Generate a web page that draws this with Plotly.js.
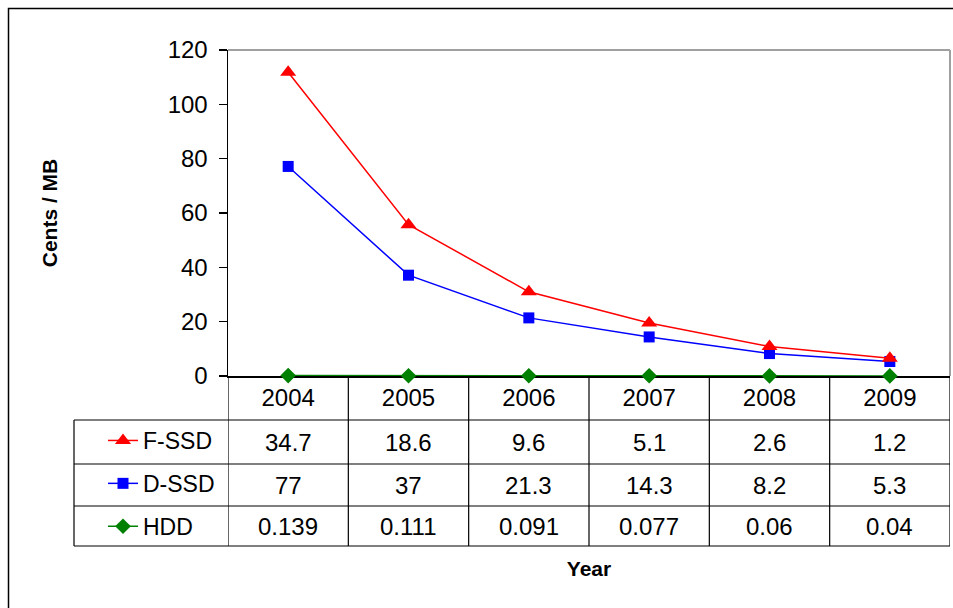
<!DOCTYPE html>
<html>
<head>
<meta charset="utf-8">
<script src="https://cdn.plot.ly/plotly-3.0.1.min.js"></script>
<style>html,body{margin:0;padding:0;background:#fff;}#chart{width:953px;height:608px;}</style>
</head>
<body>
<div id="chart"></div>
<script>
// ---- data ----
const years = [2004, 2005, 2006, 2007, 2008, 2009];
const seriesNames = ["F-SSD", "D-SSD", "HDD"];
const fssd = [34.7, 18.6, 9.6, 5.1, 2.6, 1.2];
const dssd = [77, 37, 21.3, 14.3, 8.2, 5.3];
const hdd = [0.139, 0.111, 0.091, 0.077, 0.06, 0.04];
const yTicks = [0, 20, 40, 60, 80, 100, 120];

// ---- geometry helpers (pixel -> paper) ----
const W = 953, H = 608;
const M = {l: 228, r: 3, t: 50, b: 232};
const PW = W - M.l - M.r, PH = H - M.t - M.b;
const px = p => (p - M.l) / PW;
const py = p => (H - M.b - p) / PH;

const FONT = "Liberation Sans, Arial, sans-serif";
const NUMSIZE = 24;
const rowEdges = [420, 464, 506, 546]; // table row boundaries (px)
const tableLeft = 74;

// traces: stacked lines (HDD bottom, D-SSD, F-SSD on top)
const valuesByName = {"F-SSD": fssd, "D-SSD": dssd, "HDD": hdd};
const styles = {
  "F-SSD": {color: "#ff0000", symbol: "triangle-up", size: 14},
  "D-SSD": {color: "#0000ff", symbol: "square", size: 11},
  "HDD": {color: "#008000", symbol: "diamond", size: 12}
};
const stackOrder = ["HDD", "D-SSD", "F-SSD"];
const traces = stackOrder.map(n => ({
  type: "scatter",
  mode: "lines+markers",
  name: n,
  x: years,
  y: valuesByName[n],
  stackgroup: "cost",
  fill: "none",
  legendgroup: n,
  legendrank: seriesNames.indexOf(n) + 1,
  cliponaxis: false,
  line: {color: styles[n].color, width: 1.5},
  marker: {color: styles[n].color, symbol: styles[n].symbol, size: styles[n].size}
}));

// table: shapes + annotations
const shapes = [];
const annotations = [];
// outer frame
shapes.push({type: "rect", xref: "paper", yref: "paper", x0: px(8.5), x1: px(W + 20), y0: py(H + 20), y1: py(8.5),
  line: {color: "#000", width: 1.5}});
// gray top/right plot border
shapes.push({type: "line", xref: "paper", yref: "paper", x0: 0, x1: 1, y0: 1, y1: 1, line: {color: "#a0a0a0", width: 2}});
shapes.push({type: "line", xref: "paper", yref: "paper", x0: 1, x1: 1, y0: 0, y1: 1, line: {color: "#a0a0a0", width: 2}});
// vertical table lines at category boundaries
years.concat([years[years.length - 1] + 1]).forEach(yr => {
  shapes.push({type: "line", xref: "x", yref: "paper", x0: yr - 0.5, x1: yr - 0.5, y0: 0, y1: py(rowEdges[3]),
    line: {color: "#000", width: 1.2}});
});
// left edge of table
shapes.push({type: "line", xref: "paper", yref: "paper", x0: px(tableLeft), x1: px(tableLeft), y0: py(rowEdges[0]), y1: py(rowEdges[3]),
  line: {color: "#000", width: 1.2}});
// horizontal table lines
rowEdges.forEach(r => shapes.push({type: "line", xref: "paper", yref: "paper", x0: px(tableLeft), x1: 1, y0: py(r), y1: py(r),
  line: {color: "#000", width: 1.2}}));
// values
seriesNames.forEach((n, ri) => {
  const yc = py((rowEdges[ri] + rowEdges[ri + 1]) / 2);
  valuesByName[n].forEach((v, ci) => {
    annotations.push({xref: "x", yref: "paper", x: years[ci], y: yc, text: String(v), showarrow: false,
      xanchor: "center", yanchor: "middle", font: {family: FONT, size: NUMSIZE, color: "#000"}});
  });
});

const layout = {
  width: W, height: H,
  margin: M,
  paper_bgcolor: "#fff", plot_bgcolor: "#fff",
  font: {family: FONT, size: NUMSIZE, color: "#000"},
  showlegend: true,
  legend: {
    x: px(103), xanchor: "left", y: py(419), yanchor: "top",
    traceorder: "grouped", tracegroupgap: 10,
    font: {family: FONT, size: 23, color: "#000"},
    bgcolor: "rgba(0,0,0,0)", borderwidth: 0
  },
  xaxis: {
    type: "linear",
    range: [years[0] - 0.5, years[years.length - 1] + 0.5],
    tickvals: years, ticktext: years.map(String),
    showgrid: false, zeroline: false,
    showline: true, linecolor: "#000", linewidth: 1.5,
    layer: "below traces",
    ticks: "", tickfont: {family: FONT, size: NUMSIZE, color: "#000"},
    title: {text: "Year", font: {family: FONT, size: 21, color: "#000", weight: "bold"}, standoff: 151}
  },
  yaxis: {
    range: [0, 120], tickvals: yTicks,
    showgrid: false, zeroline: false,
    showline: true, linecolor: "#000", linewidth: 1.5,
    layer: "below traces",
    ticks: "outside", ticklen: 8, tickcolor: "#000", tickwidth: 1.2,
    ticklabelstandoff: 6,
    tickfont: {family: FONT, size: NUMSIZE, color: "#000"},
    title: {text: "Cents / MB", font: {family: FONT, size: 21, color: "#000", weight: "bold"}, standoff: 104}
  },
  shapes: shapes,
  annotations: annotations
};

Plotly.newPlot("chart", traces, layout, {displayModeBar: false, staticPlot: true});
</script>
</body>
</html>
